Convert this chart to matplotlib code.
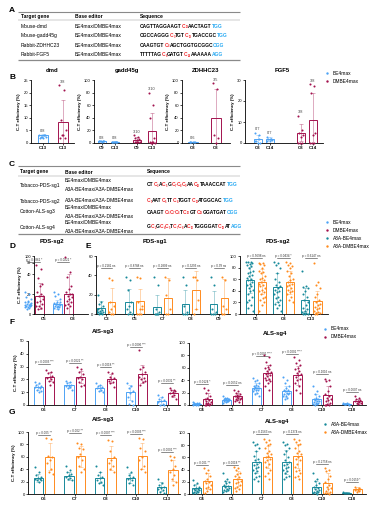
import re
import numpy as np
import matplotlib
matplotlib.use("Agg")
import matplotlib.pyplot as plt

W, H = 378, 509
plt.rcParams['font.family'] = ['Liberation Sans', 'DejaVu Sans']

C_BE = '#4da3f5'
C_DM = '#a3124e'
C_A3 = '#17899a'
C_A3D = '#ff8b1e'
RED = '#f0282d'
BLUE = '#28a9f2'

# ------------------------------------------------------------------ data
tableA_genes = ["Mouse-dmd", "Mouse-gadd45g", "Rabbit-ZDHHC23", "Rabbit-FGF5"]
tableA_editors = ["BE4max/DMBE4max"] * 4
tableA_seqs = ["CAGTTAGGAAGT[C13]AACTAGT{TGG}",
               "CGCCAGGG[C9]TGT[C13]TGACCGC{TGG}",
               "CAAGTGT[C8]AGCTGGTGCGGC{CGG}",
               "TTTTTAG[C8]GATGT[C14]AAAAAA{AGG}"]

tableC_genes = ["Tobacco-PDS-sg1", "Tobacco-PDS-sg2", "Cotton-ALS-sg3", "Cotton-ALS-sg4"]
tableC_editors = [["BE4max/DMBE4max", "A3A-BE4max/A3A-DMBE4max"],
                  ["A3A-BE4max/A3A-DMBE4max"],
                  ["BE4max/DMBE4max", "A3A-BE4max/A3A-DMBE4max"],
                  ["BE4max/DMBE4max", "A3A-BE4max/A3A-DMBE4max"]]
tableC_seqs = ["CT[C3]A[C5]G[C7][C8][C9]AA[C12]TAAACCAT{TGG}",
               "[C1]AAT[C5]TT[C8]TGGT[C13]ATGGCAC{TGG}",
               "CAAGT[C6][C7][C8]T[C10]GT[C13]GGATGAT{CGG}",
               "G[C2]G[C4][C5]T[C7][C8]A[C10]TGGGGAT[C18]AT{AGG}"]

# Panel B
B_dmd_labels = ["C13", "C13"]
B_dmd_means = [3.0, 8.5]
B_dmd_sds = [0.4, 8.6]
B_dmd_pts = [[3, 3, 2.5, 2.5, 2, 2, 3, 2.5], [23, 21, 9, 5, 3, 2, 2, 3]]
B_dmd_ratio = ["0/8", "3/8"]

B_gadd_labels = ["C9", "C13", "C9", "C13"]
B_gadd_means = [3.0, 2.0, 5.0, 19.0]
B_gadd_sds = [0.5, 0.4, 4.0, 29.0]
B_gadd_pts = [[3, 3, 2.5, 3, 2, 3, 2.5, 3], [2, 1.5, 2, 1.5, 1, 2, 1.5, 2],
              [12, 10, 8, 6, 4, 2, 1, 1, 1, 2], [80, 60, 40, 8, 1, 1, 1, 0, 0, 0]]
B_gadd_ratio = ["0/8", "0/8", "3/10", "3/10"]

B_zd_labels = ["C8", "C8"]
B_zd_means = [2.0, 40.0]
B_zd_sds = [0.3, 45.0]
B_zd_pts = [[2, 2, 1.5, 2, 2, 1.5], [95, 86, 12, 8, 0]]
B_zd_ratio = ["0/6", "3/5"]

B_fgf_labels = ["C8", "C14", "C8", "C14"]
B_fgf_means = [2.0, 2.0, 5.0, 11.0]
B_fgf_sds = [2.0, 0.8, 4.0, 13.0]
B_fgf_pts = [[5, 4, 1, 0, 0, 1, 2], [3, 2, 2, 1.5, 1, 1, 2],
             [13, 6, 5, 4, 3, 0, 0, 0], [28, 27, 24, 5, 4, 0, 0, 0]]
B_fgf_ratio = ["0/7", "0/7", "3/8", "3/8"]

# Panel D (PDS-sg2, BE4max vs DMBE4max)
D_labels = ["C5", "C8"]
D_be_means = [10, 10]
D_be_sds = [4, 4.5]
D_be_pts = [[22, 20, 17, 15, 12, 12, 10, 10, 9, 9, 8, 8, 7, 7, 6, 5, 11, 13, 9, 8],
            [22, 20, 18, 15, 12, 11, 10, 10, 9, 8, 8, 7, 7, 6, 5, 10, 12]]
D_dm_means = [18, 20]
D_dm_sds = [13, 20]
D_dm_pts = [[49, 45, 36, 30, 28, 22, 20, 18, 15, 13, 12, 10, 8, 8, 6, 5, 18],
            [95, 42, 37, 28, 25, 22, 20, 18, 17, 15, 13, 12, 10, 9, 8, 6, 20]]
D_p = ["p = 0.0361 *", "p = 0.0221 *"]

# Panel E1 (PDS-sg1, A3A-BE4max vs A3A-DMBE4max)
E1_labels = ["C3", "C5", "C7", "C8", "C9"]
E1_a_means = [6, 12, 7, 10, 10]
E1_a_sds = [7, 14, 13, 15, 14]
E1_a_pts = [[20, 12, 10, 8, 6, 5, 4, 3, 2, 1, 0, 0, 1, 2],
            [38, 35, 25, 12, 8, 5, 2, 0, 0],
            [38, 30, 5, 2, 0, 0, 0, 0],
            [38, 30, 8, 2, 0, 0, 0],
            [38, 30, 5, 2, 0, 0, 0]]
E1_b_means = [12, 13, 17, 25, 17]
E1_b_sds = [15, 13, 20, 20, 19]
E1_b_pts = [[37, 35, 12, 8, 5, 2, 0, 0],
            [38, 37, 12, 8, 5, 0, 0, 0, 5],
            [38, 35, 20, 5, 0, 0],
            [38, 35, 38, 15, 5, 0],
            [38, 35, 8, 5, 0, 0]]
E1_p = ["p = 0.2181 ns", "p = 0.8788 ns", "p = 0.2809 ns", "p = 0.3293 ns", "p = 0.39 ns"]

# Panel E2 (PDS-sg2)
E2_labels = ["C5", "C8", "C13"]
E2_a_means = [59, 46, 25]
E2_a_sds = [22, 25, 20]
E2_a_pts = [[90, 90, 90, 88, 87, 85, 82, 80, 75, 72, 70, 68, 65, 62, 60, 58, 55, 52, 50, 48, 45, 42, 40, 35, 30, 25, 20, 15, 10, 5],
            [90, 88, 85, 80, 70, 60, 55, 50, 48, 45, 42, 40, 38, 35, 30, 28, 25, 20, 18, 15, 10, 5],
            [75, 48, 46, 45, 40, 35, 30, 25, 20, 15, 10, 8, 5, 3, 2, 1, 0, 0, 0]]
E2_b_means = [56, 55, 22]
E2_b_sds = [22, 20, 18]
E2_b_pts = [[88, 88, 87, 85, 80, 75, 72, 70, 65, 62, 60, 58, 55, 52, 50, 48, 45, 42, 40, 38, 35, 30, 28, 25, 20, 15, 5],
            [90, 88, 85, 82, 80, 75, 70, 65, 60, 58, 55, 52, 50, 48, 45, 42, 40, 38, 35, 30, 25, 20],
            [88, 55, 50, 45, 35, 30, 25, 20, 18, 15, 12, 10, 8, 5, 3, 2, 1, 0, 0]]
E2_p = ["p = 0.5698 ns", "p = 0.0434 *", "p = 0.6147 ns"]

# Panel F1 (AIS-sg3, BE4max vs DMBE4max)
F1_labels = ["C6", "C7", "C8", "C10", "C13"]
F1_be_means = [14, 15.5, 13, 10, 3]
F1_be_sds = [2.5, 2.3, 2.3, 6, 3]
F1_be_pts = [[18, 17, 16, 15, 14, 14, 13, 12, 11, 10],
             [19, 18, 17, 16, 15, 15, 14, 13, 12],
             [17, 16, 15, 14, 13, 13, 12, 11, 10],
             [17, 15, 13, 11, 9, 6, 3, 1, 0],
             [8, 6, 5, 4, 3, 2, 1, 0, 0]]
F1_dm_means = [22, 22, 20.5, 24, 9]
F1_dm_sds = [3.5, 4.5, 3.5, 7, 3]
F1_dm_pts = [[27, 26, 25, 23, 22, 21, 20, 19, 18, 16],
             [30, 28, 26, 24, 22, 21, 20, 18, 16, 15],
             [26, 25, 22, 21, 20, 19, 18, 17, 14],
             [43, 30, 28, 26, 24, 22, 21, 20, 19, 18, 16],
             [13, 12, 12, 11, 10, 9, 8, 7, 5]]
F1_p = ["p = 0.0003 ***", "p = 0.0021 **", "p = 0.0018 **", "p = 0.0006 ***", "p = 0.0031 **"]
F1_ph = [32, 33, 30, 45, 17]

# Panel F2 (ALS-sg4)
F2_labels = ["C4", "C5", "C7", "C8", "C10", "C18"]
F2_be_means = [2, 8, 28, 22, 9, 2]
F2_be_sds = [1.5, 3, 8, 9, 8, 1]
F2_be_pts = [[5, 4, 3, 3, 2, 2, 2, 1, 1, 1, 1, 0, 0, 0],
             [14, 12, 11, 10, 10, 9, 9, 8, 8, 7, 7, 6, 5, 4],
             [44, 40, 38, 35, 33, 31, 30, 29, 28, 27, 26, 25, 24, 22, 20, 18, 15],
             [45, 40, 35, 30, 28, 25, 24, 22, 20, 19, 18, 17, 15, 14, 12, 10],
             [30, 22, 18, 15, 12, 10, 9, 8, 7, 6, 5, 4, 3, 2, 1, 0],
             [3, 3, 2, 2, 2, 1, 1, 1, 0]]
F2_dm_means = [10, 14, 52, 48, 16, 6]
F2_dm_sds = [9, 6, 12, 15, 15, 4]
F2_dm_pts = [[27, 24, 20, 15, 12, 10, 8, 6, 5, 4, 3, 2, 1, 0, 0, 0],
             [25, 22, 20, 18, 16, 15, 14, 13, 12, 11, 10, 9, 8, 7, 5],
             [80, 78, 70, 65, 62, 60, 58, 55, 53, 52, 50, 48, 46, 44, 42, 40, 38, 35, 30, 25],
             [78, 72, 68, 65, 60, 58, 55, 52, 50, 48, 45, 42, 40, 35, 30, 25, 20],
             [42, 40, 38, 30, 22, 18, 15, 12, 10, 8, 6, 4, 2, 0, 0, 0],
             [15, 12, 10, 8, 7, 6, 5, 4, 3, 2]]
F2_p = ["p = 0.0124 *", "p = 0.0652 ns", "p < 0.0001 ****", "p < 0.0001 ****", "p = 0.1016 ns", "p = 0.0607 ns"]
F2_ph = [34, 32, 79, 82, 50, 21]

# Panel G1 (AIS-sg3, A3A-BE4max vs A3A-DMBE4max)
G1_labels = ["C6", "C7", "C8", "C10", "C13"]
G1_a_means = [26, 29, 26, 26, 12]
G1_a_sds = [7, 7, 9, 8, 7]
G1_a_pts = [[44, 35, 30, 28, 26, 25, 24, 23, 22, 20],
            [45, 38, 35, 32, 30, 28, 26, 25, 22],
            [45, 36, 30, 28, 26, 22, 20, 18, 15],
            [43, 35, 30, 28, 26, 24, 22, 18, 15],
            [25, 18, 15, 12, 10, 8, 6, 4, 2]]
G1_b_means = [60, 61, 58, 61, 38]
G1_b_sds = [22, 17, 20, 21, 17]
G1_b_pts = [[90, 88, 62, 60, 55, 50, 40, 35, 32],
            [83, 80, 75, 73, 65, 60, 55, 45, 40, 35],
            [87, 85, 70, 60, 55, 50, 45, 40, 35],
            [90, 88, 75, 70, 60, 55, 45, 40, 35],
            [62, 60, 55, 45, 40, 35, 30, 25, 20, 15]]
G1_p = ["p = 0.005 **", "p = 0.002 **", "p = 0.0007 ***", "p = 0.0003 ***", "p = 0.0001 ***"]
G1_ph = [95, 98, 95, 96, 68]

# Panel G2 (ALS-sg4)
G2_labels = ["C4", "C5", "C7", "C8", "C10", "C18"]
G2_a_means = [10, 13, 52, 52, 12, 2]
G2_a_sds = [6, 8, 18, 20, 9, 1]
G2_a_pts = [[23, 18, 15, 12, 10, 9, 8, 7, 6, 5, 4, 3, 2, 1],
            [35, 25, 22, 20, 18, 15, 13, 12, 10, 8, 7, 6, 5, 3],
            [85, 82, 80, 75, 70, 62, 58, 55, 52, 50, 48, 45, 42, 40, 38, 35, 30, 28, 25, 22],
            [85, 82, 80, 75, 70, 65, 60, 55, 52, 50, 48, 45, 42, 40, 38, 35, 30, 28, 25],
            [35, 25, 22, 18, 15, 12, 10, 8, 6, 5, 4, 3, 2, 1, 0],
            [3, 2, 2, 2, 1, 1, 1]]
G2_b_means = [21, 25, 61, 62, 18, 8]
G2_b_sds = [13, 12, 18, 20, 16, 3]
G2_b_pts = [[42, 40, 35, 30, 25, 22, 20, 18, 15, 12, 10, 8, 5, 2],
            [45, 42, 40, 35, 32, 30, 28, 25, 22, 20, 18, 15, 12, 10, 8, 5],
            [90, 88, 85, 82, 80, 75, 70, 68, 65, 62, 60, 58, 55, 52, 50, 45, 40, 35, 30, 25],
            [90, 88, 85, 82, 80, 75, 70, 68, 65, 60, 58, 55, 50, 45, 40, 38, 35, 30, 28, 25],
            [42, 40, 38, 30, 25, 20, 15, 12, 10, 8, 5, 3, 2, 1, 0],
            [12, 10, 9, 8, 7, 6, 5, 4]]
G2_p = ["p = 0.001 **", "p = 0.0018 **", "p = 0.1563 ns", "p = 0.1374 ns", "p = 0.2758 ns", "p = 0.0159 *"]
G2_ph = [48, 47, 98, 98, 50, 19]

# ------------------------------------------------------------------ figure
fig = plt.figure(figsize=(W / 100, H / 100), dpi=100)
ov = fig.add_axes([0, 0, 1, 1], zorder=10)
ov.set_xlim(0, W)
ov.set_ylim(H, 0)
ov.axis('off')


def add_ax(l, t, r, b):
    return fig.add_axes([l / W, 1 - b / H, (r - l) / W, (b - t) / H])


def style(ax, xlim, ylim, yticks, xticks, xlabels, ylabel=False):
    ax.set_xlim(*xlim)
    ax.set_ylim(*ylim)
    ax.set_yticks(yticks)
    ax.set_xticks(xticks)
    ax.set_xticklabels(xlabels, fontweight='bold', fontsize=3.2)
    ax.tick_params(axis='y', labelsize=3.0, length=1.5, width=0.5, pad=0.8)
    ax.tick_params(axis='x', length=1.2, width=0.5, pad=1)
    for s in ['top', 'right']:
        ax.spines[s].set_visible(False)
    for s in ['left', 'bottom']:
        ax.spines[s].set_linewidth(0.6)
    ax.patch.set_visible(False)
    if ylabel:
        ax.set_ylabel('C-T efficiency (%)', fontsize=3.2, fontweight='bold', labelpad=1.5)


def draw_bars(ax, xs, means, sds, pts_list, color, w, spread):
    for x, m, s, p in zip(xs, means, sds, pts_list):
        ax.bar(x, m, w, facecolor='white', edgecolor=color, lw=0.7, zorder=2)
        ax.errorbar(x, m, yerr=[[min(s, m)], [s]], fmt='none', ecolor=color, alpha=0.5,
                    elinewidth=0.5, capsize=1.2, capthick=0.5, zorder=3)
        n = len(p)
        off = ((np.arange(n) * 0.618034) % 1 - 0.5) * spread
        ax.scatter(x + off, p, s=2.2, color=color, lw=0, zorder=4, clip_on=False)


def bracket(ax, x1, x2, y, label):
    ax.plot([x1, x2], [y, y], color='#333333', lw=0.4, zorder=5, clip_on=False)
    ax.text((x1 + x2) / 2, y, label, ha='center', va='bottom', fontsize=2.2, color='#333333')


def paired_panel(ax, labels, am, asd, apts, bm, bsd, bpts, ca, cb, plabels, pheights,
                 xlim, ylim, yticks, ylabel, d=0.19, w=0.3, spread=0.22):
    c = np.arange(len(labels))
    draw_bars(ax, c - d, am, asd, apts, ca, w, spread)
    draw_bars(ax, c + d, bm, bsd, bpts, cb, w, spread)
    for i in range(len(labels)):
        bracket(ax, c[i] - d, c[i] + d, pheights[i], plabels[i])
    style(ax, xlim, ylim, yticks, c, labels, ylabel)


def ftext(x, y, s, fs=3.6, **kw):
    kw.setdefault('va', 'center')
    kw.setdefault('ha', 'left')
    return ov.text(x, y, s, fontsize=fs, **kw)


def hline(x0, x1, y, lw=0.6, color='#8a8a8a'):
    ov.plot([x0, x1], [y, y], color=color, lw=lw, solid_capstyle='butt')


renderer = fig.canvas.get_renderer()


def draw_seq(x, y, s, fs=3.5):
    for num, pam, plain in re.findall(r'\[C(\d+)\]|\{([ACGT]+)\}|([ACGT]+)', s):
        if plain:
            parts = [(plain, 'black', fs, 0)]
        elif pam:
            parts = [(pam, BLUE, fs, 0)]
        else:
            parts = [('C', RED, fs, 0), (num, RED, fs * 0.55, 1.2)]
        for txt, col, f, dy in parts:
            t = ov.text(x, y + dy, txt, color=col, fontsize=f, fontweight='bold', va='center', ha='left')
            x += t.get_window_extent(renderer=renderer).width


def legend(x, y0, dy, items):
    for i, (lab, col) in enumerate(items):
        ov.scatter([x], [y0 + i * dy], s=3, color=col, lw=0)
        ftext(x + 6, y0 + i * dy, lab, fs=3.5)


# panel letters
for L, (x, y) in zip("ABCDEFG", [(12, 10), (12, 77), (12, 164), (12, 247), (88, 247), (12, 322), (12, 413)]):
    ftext(x, y, L, fs=6, fontweight='bold', ha='center')

# ---- Table A
hline(18, 240, 12, 0.8)
hline(18, 240, 20, 0.3)
hline(18, 240, 60, 0.9)
ftext(21, 16, "Target gene", fontweight='bold')
ftext(75, 16, "Base editor", fontweight='bold')
ftext(140, 16, "Sequence", fontweight='bold')
for i, (g, e, s) in enumerate(zip(tableA_genes, tableA_editors, tableA_seqs)):
    y = 26 + i * 9.5
    ftext(21, y, g)
    ftext(75, y, e)
    draw_seq(140, y, s)

# ---- Table C
hline(18, 240, 166, 0.8)
hline(18, 240, 176, 0.3)
hline(18, 240, 234, 0.9)
ftext(20, 172, "Target gene", fontweight='bold')
ftext(65, 172, "Base editor", fontweight='bold')
ftext(147, 172, "Sequence", fontweight='bold')
rowsC = [185, 201, 212, 227]
for g, eds, s, y in zip(tableC_genes, tableC_editors, tableC_seqs, rowsC):
    ftext(20, y, g)
    if len(eds) == 2:
        ftext(65, y - 4.3, eds[0])
        ftext(65, y + 4.3, eds[1])
    else:
        ftext(65, y, eds[0])
    draw_seq(147, y, s)

# ---- Panel B
def b_panel(ax, xs, labels, means, sds, pts, ratios, cols, w, xlim, ylim, yticks, rpad):
    for x, m, s, p, c in zip(xs, means, sds, pts, cols):
        draw_bars(ax, [x], [m], [s], [p], c, w, w * 0.75)
    for x, m, s, p, r in zip(xs, means, sds, pts, ratios):
        top = max(m + s, max(p))
        ax.text(x, top + rpad, r, ha='center', va='bottom', fontsize=2.8, color='#444444')
    style(ax, xlim, ylim, yticks, xs, labels, True)


axB1 = add_ax(31, 80, 74, 143)
b_panel(axB1, [0.6, 1.6], B_dmd_labels, B_dmd_means, B_dmd_sds, B_dmd_pts, B_dmd_ratio,
        [C_BE, C_DM], 0.5, (0, 2.15), (0, 25), [0, 5, 10, 15, 20, 25], 0.4)
axB2 = add_ax(94, 80, 178, 143)
b_panel(axB2, [0.53, 1.4, 2.87, 3.87], B_gadd_labels, B_gadd_means, B_gadd_sds, B_gadd_pts,
        B_gadd_ratio, [C_BE, C_BE, C_DM, C_DM], 0.55, (0, 5.6), (0, 100), range(0, 101, 20), 2)
axB3 = add_ax(182, 80, 230, 143)
b_panel(axB3, [0.48, 1.48], B_zd_labels, B_zd_means, B_zd_sds, B_zd_pts, B_zd_ratio,
        [C_BE, C_DM], 0.4, (0, 2.09), (0, 100), range(0, 101, 20), 2)
axB4 = add_ax(245, 80, 323, 143)
b_panel(axB4, [1.04, 2.0, 4.48, 5.44], B_fgf_labels, B_fgf_means, B_fgf_sds, B_fgf_pts,
        B_fgf_ratio, [C_BE, C_BE, C_DM, C_DM], 0.7, (0, 6.24), (0, 30), [0, 10, 20, 30], 0.6)
for t, x in zip(["dmd", "gadd45g", "ZDHHC23", "FGF5"], [52, 127, 206, 282]):
    ftext(x, 70, t, fs=4.3, fontweight='bold', ha='center')
legend(327, 73, 8, [("BE4max", C_BE), ("DMBE4max", C_DM)])

# ---- Panel D (segmented y axis: 0-48 linear, compressed 50-100 on top)
def fwd(y):
    y = np.asarray(y, float)
    return np.where(y <= 48, y, np.where(y < 50, 48 + (y - 48) * 1.5, 51 + (y - 50) * 0.14))


def inv(m):
    m = np.asarray(m, float)
    return np.where(m <= 48, m, np.where(m < 51, 48 + (m - 48) / 1.5, 50 + (m - 51) / 0.14))


axD = add_ax(34, 256, 88, 314)
axD.set_yscale('function', functions=(fwd, inv))
paired_panel(axD, D_labels, D_be_means, D_be_sds, D_be_pts, D_dm_means, D_dm_sds, D_dm_pts,
             C_BE, C_DM, D_p, [60, 60], (0, 1.86), (0, 100), [0, 20, 40, 50, 100], True,
             d=0.2, w=0.3, spread=0.25)
axD.set_xticks([0.34, 1.34])
axD.set_xticklabels(D_labels, fontweight='bold', fontsize=3.2)
axD.tick_params(axis='y', labelsize=2.8)
ftext(52, 241, "PDS-sg2", fs=4.3, fontweight='bold', ha='center')

# ---- Panel E
axE1 = add_ax(96, 256, 230, 314)
paired_panel(axE1, E1_labels, E1_a_means, E1_a_sds, E1_a_pts, E1_b_means, E1_b_sds, E1_b_pts,
             C_A3, C_A3D, E1_p, [48] * 5, (-0.36, 4.39), (0, 60), [0, 20, 40, 60], False,
             d=0.19, w=0.27, spread=0.2)
axE2 = add_ax(240, 256, 328, 314)
paired_panel(axE2, E2_labels, E2_a_means, E2_a_sds, E2_a_pts, E2_b_means, E2_b_sds, E2_b_pts,
             C_A3, C_A3D, E2_p, [96] * 3, (-0.57, 2.6), (0, 100), range(0, 101, 20), False,
             d=0.22, w=0.3, spread=0.24)
ftext(155, 241, "PDS-sg1", fs=4.3, fontweight='bold', ha='center')
ftext(278, 241, "PDS-sg2", fs=4.3, fontweight='bold', ha='center')
legend(327, 222, 8, [("BE4max", C_BE), ("DMBE4max", C_DM), ("A3A-BE4max", C_A3), ("A3A-DMBE4max", C_A3D)])

# ---- Panel F
axF1 = add_ax(28, 341, 180, 405)
paired_panel(axF1, F1_labels, F1_be_means, F1_be_sds, F1_be_pts, F1_dm_means, F1_dm_sds, F1_dm_pts,
             C_BE, C_DM, F1_p, F1_ph, (-0.52, 4.42), (0, 50), range(0, 51, 10), True)
axF2 = add_ax(189, 343, 366, 405)
paired_panel(axF2, F2_labels, F2_be_means, F2_be_sds, F2_be_pts, F2_dm_means, F2_dm_sds, F2_dm_pts,
             C_BE, C_DM, F2_p, F2_ph, (-0.43, 5.46), (0, 100), range(0, 101, 20), False)
ftext(103, 332, "AIS-sg3", fs=4.3, fontweight='bold', ha='center')
ftext(275, 334, "ALS-sg4", fs=4.3, fontweight='bold', ha='center')
legend(325, 329, 8, [("BE4max", C_BE), ("DMBE4max", C_DM)])

# ---- Panel G
axG1 = add_ax(28, 432, 180, 494)
paired_panel(axG1, G1_labels, G1_a_means, G1_a_sds, G1_a_pts, G1_b_means, G1_b_sds, G1_b_pts,
             C_A3, C_A3D, G1_p, G1_ph, (-0.52, 4.42), (0, 100), range(0, 101, 20), True)
axG2 = add_ax(189, 433, 366, 494)
paired_panel(axG2, G2_labels, G2_a_means, G2_a_sds, G2_a_pts, G2_b_means, G2_b_sds, G2_b_pts,
             C_A3, C_A3D, G2_p, G2_ph, (-0.43, 5.46), (0, 100), range(0, 101, 20), False)
ftext(103, 420, "AIS-sg3", fs=4.3, fontweight='bold', ha='center')
ftext(277, 421, "ALS-sg4", fs=4.3, fontweight='bold', ha='center')
legend(325, 424, 8, [("A3A-BE4max", C_A3), ("A3A-DMBE4max", C_A3D)])

fig.savefig("out.png", dpi=100)
